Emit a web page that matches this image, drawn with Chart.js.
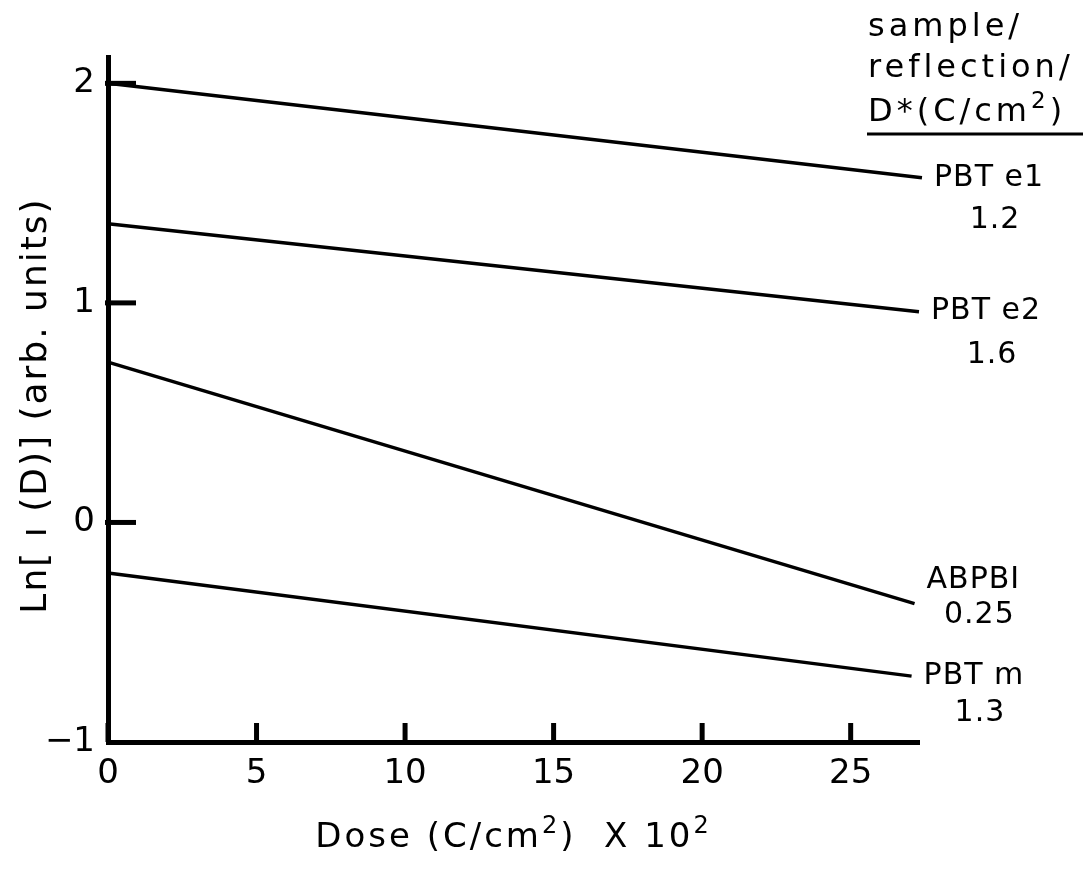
<!DOCTYPE html>
<html><head><meta charset="utf-8">
<script src="https://cdn.jsdelivr.net/npm/chart.js@4/dist/chart.umd.min.js"></script>
<style>html,body{margin:0;padding:0;background:#fff}#wrap{width:1091px;height:871px;position:relative}</style>
</head><body><div id="wrap"><canvas id="c"></canvas></div>
<script>
// ---- data ----
const doseTicks = [0, 5, 10, 15, 20, 25];
const lnTicks = [-1, 0, 1, 2];
const sampleNames = ['PBT e1', 'PBT e2', 'ABPBI', 'PBT m'];
const dStarValues = ['1.2', '1.6', '0.25', '1.3'];
const pbtE1Dose = [0, 27.4];
const pbtE1Ln   = [2.00, 1.57];
const pbtE2Dose = [0, 27.3];
const pbtE2Ln   = [1.36, 0.96];
const abpbiDose = [0, 27.15];
const abpbiLn   = [0.73, -0.37];
const pbtMDose  = [0, 27.05];
const pbtMLn    = [-0.23, -0.70];
const xTitle = [['Dose (C/cm', 0], ['2', 1], [')  X 10', 0], ['2', 1]];
const yTitle = 'Ln[ ı (D)] (arb. units)';
const headerLines = [[['sample/', 0]], [['reflection/', 0]], [['D*(C/cm', 0], ['2', 1], [')', 0]]];

// ---- styling ----
const FONT = '"DejaVu Sans", sans-serif';
const labelDy = [0, 0, -23, 0];
const labelGap = [42, 44, 35, 37];

const toPts = (xs, ys) => xs.map((x, i) => ({x: x, y: ys[i]}));
const seriesData = [
  toPts(pbtE1Dose, pbtE1Ln),
  toPts(pbtE2Dose, pbtE2Ln),
  toPts(abpbiDose, abpbiLn),
  toPts(pbtMDose, pbtMLn)
];

function setSpacing(ctx, px) { try { ctx.letterSpacing = px + 'px'; } catch (e) {} }

// draw text segments [text, isSup] at baseline y; align 'left' or 'center'
function drawRich(ctx, segs, x, y, size, spacing, align) {
  setSpacing(ctx, spacing);
  const widths = segs.map(s => {
    ctx.font = (s[1] ? Math.round(size * 0.72) : size) + 'px ' + FONT;
    return ctx.measureText(s[0]).width;
  });
  const total = widths.reduce((a, b) => a + b, 0);
  let cx = align === 'center' ? x - total / 2 : x;
  ctx.textAlign = 'left';
  ctx.textBaseline = 'alphabetic';
  segs.forEach((s, i) => {
    ctx.font = (s[1] ? Math.round(size * 0.72) : size) + 'px ' + FONT;
    ctx.fillText(s[0], cx, s[1] ? y - size * 0.42 : y);
    cx += widths[i];
  });
  setSpacing(ctx, 0);
}

const decor = {
  id: 'decor',
  afterDraw(chart) {
    const ctx = chart.ctx;
    const xs = chart.scales.x, ys = chart.scales.y;
    const ca = chart.chartArea;
    ctx.save();
    ctx.strokeStyle = '#000';
    ctx.fillStyle = '#000';
    ctx.lineWidth = 5;
    ctx.lineCap = 'butt';
    // inward x ticks
    doseTicks.forEach(v => {
      const px = xs.getPixelForValue(v);
      ctx.beginPath(); ctx.moveTo(px, ca.bottom); ctx.lineTo(px, ca.bottom - 19); ctx.stroke();
    });
    // inward y ticks
    lnTicks.forEach(v => {
      if (v === -1) return;
      const py = ys.getPixelForValue(v);
      ctx.beginPath(); ctx.moveTo(ca.left - 3, py); ctx.lineTo(ca.left + 28, py); ctx.stroke();
    });
    // axis titles
    drawRich(ctx, xTitle, (ca.left + ca.right) / 2, 847, 34, 3, 'center');
    ctx.save();
    ctx.translate(46, (ca.top + ca.bottom) / 2 + 6);
    ctx.rotate(-Math.PI / 2);
    drawRich(ctx, [[yTitle, 0]], 0, 0, 36, 2, 'center');
    ctx.restore();
    // series labels
    ctx.font = '30px ' + FONT;
    ctx.textBaseline = 'middle';
    setSpacing(ctx, 1);
    seriesData.forEach((pts, i) => {
      const last = pts[pts.length - 1];
      const px = xs.getPixelForValue(last.x) + 12;
      const py = ys.getPixelForValue(last.y) + labelDy[i];
      ctx.textAlign = 'left';
      ctx.fillText(sampleNames[i], px, py);
      const w = ctx.measureText(sampleNames[i]).width;
      ctx.textAlign = 'center';
      ctx.fillText(dStarValues[i], px + w / 2 + 6, py + labelGap[i]);
    });
    setSpacing(ctx, 0);
    // header
    const hb = [36, 77, 121];
    headerLines.forEach((segs, i) => drawRich(ctx, segs, 868, hb[i], 32, 4, 'left'));
    ctx.lineWidth = 3;
    ctx.beginPath(); ctx.moveTo(867, 134); ctx.lineTo(1083, 134); ctx.stroke();
    ctx.restore();
  }
};

new Chart(document.getElementById('c'), {
  type: 'line',
  data: {
    datasets: seriesData.map((d, i) => ({
      label: sampleNames[i],
      data: d,
      borderColor: '#000',
      backgroundColor: '#000',
      borderWidth: 3.5,
      pointRadius: 0,
      fill: false,
      tension: 0,
      clip: false
    }))
  },
  options: {
    responsive: true,
    maintainAspectRatio: false,
    animation: false,
    devicePixelRatio: 1,
    layout: {padding: {top: 57, right: 172, left: 0, bottom: 0}},
    plugins: {legend: {display: false}, tooltip: {enabled: false}},
    scales: {
      x: {
        type: 'linear', min: 0, max: 27.3,
        afterBuildTicks: s => { s.ticks = doseTicks.map(v => ({value: v})); },
        afterFit: s => { s.height = 129; },
        grid: {display: false, drawTicks: false},
        border: {display: true, color: '#000', width: 5},
        ticks: {color: '#000', font: {family: FONT, size: 34}, padding: 12, maxRotation: 0, autoSkip: false},
        title: {display: false}
      },
      y: {
        type: 'linear', min: -1, max: 2.12,
        afterBuildTicks: s => { s.ticks = lnTicks.map(v => ({value: v})); },
        afterFit: s => { s.width = 108; },
        grid: {display: false, drawTicks: false},
        border: {display: true, color: '#000', width: 5},
        ticks: {color: '#000', font: {family: FONT, size: 34}, padding: 13,
                callback: v => v < 0 ? '\u2212' + Math.abs(v) : String(v)},
        title: {display: false}
      }
    }
  },
  plugins: [decor]
});
</script></body></html>
